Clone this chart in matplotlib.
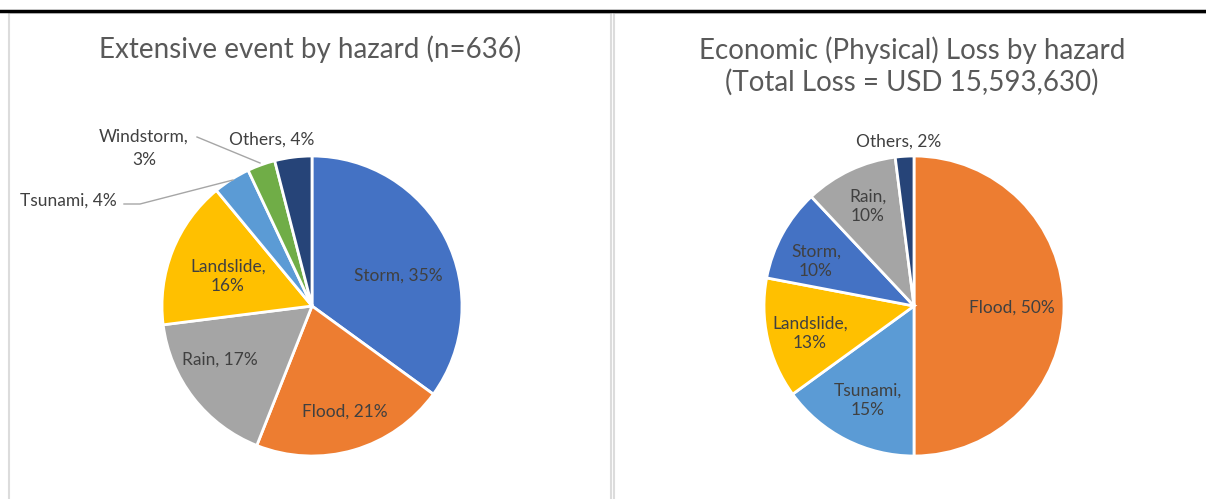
import matplotlib
matplotlib.use('Agg')
import matplotlib.pyplot as plt
from matplotlib.lines import Line2D
from matplotlib.patches import Rectangle

plt.rcParams['font.family'] = ['Lato', 'DejaVu Sans']

# data
event_hazards = ['Storm', 'Flood', 'Rain', 'Landslide', 'Tsunami', 'Windstorm', 'Others']
event_share = [35, 21, 17, 16, 4, 3, 4]
event_title = 'Extensive event by hazard (n=636)'

loss_hazards = ['Flood', 'Tsunami', 'Landslide', 'Storm', 'Rain', 'Others']
loss_share = [50, 15, 13, 10, 10, 2]
loss_title = 'Economic (Physical) Loss by hazard\n(Total Loss = USD 15,593,630)'

hazard_colors = {'Storm': '#4472C4', 'Flood': '#ED7D31', 'Rain': '#A5A5A5',
                 'Landslide': '#FFC000', 'Tsunami': '#5B9BD5',
                 'Windstorm': '#70AD47', 'Others': '#264478'}

W, H = 1206, 499
R = 150.0
txt = '#404040'

fig = plt.figure(figsize=(W / 100, H / 100), dpi=100)

# top rule and chart frames
fig.add_artist(Line2D([0, 1], [1 - 10.5 / H, 1 - 10.5 / H], color='black', lw=2.5))
for x0, x1 in [(9, 611), (614, 1215)]:
    fig.add_artist(Rectangle((x0 / W, -0.05), (x1 - x0) / W, 1.05 - 13 / H,
                             fill=False, ec='#dcdcdc', lw=1.5))


def make_pie(x0, x1, cx, cy, names, vals, labels, title, title_y):
    y0, y1 = 13, H
    ax = fig.add_axes([x0 / W, 1 - y1 / H, (x1 - x0) / W, (y1 - y0) / H])
    ax.pie(vals, colors=[hazard_colors[n] for n in names], startangle=90,
           counterclock=False, radius=1,
           wedgeprops=dict(edgecolor='white', linewidth=2))
    ax.set_xlim((x0 - cx) / R, (x1 - cx) / R)
    ax.set_ylim((cy - y1) / R, (cy - y0) / R)
    ax.set_aspect('auto')
    ax.axis('off')

    def p(x, y):
        return (x - cx) / R, (cy - y) / R

    ax.text(*p(cx - 2, title_y), title, ha='center', va='center', fontsize=20,
            color='#595959', linespacing=1.2)
    for n, v in zip(names, vals):
        if n not in labels:
            continue
        x, y, brk, ls = labels[n]
        s = f'{n},\n{v}%' if brk else f'{n}, {v}%'
        ax.text(*p(x, y), s, ha='center', va='center', fontsize=12.5,
                color=txt, linespacing=ls)
    return ax, p


# label positions (pixels): x, y, line break, line spacing
ev_lab = {'Storm': (398, 276, False, 1.25), 'Flood': (345, 412, False, 1.25),
          'Rain': (220, 360, False, 1.25), 'Landslide': (228, 276, True, 1.25),
          'Tsunami': (68, 201, False, 1.25), 'Windstorm': (144, 148, True, 1.55),
          'Others': (272, 140, False, 1.25)}
ax1, p1 = make_pie(9, 611, 312, 306, event_hazards, event_share, ev_lab,
                   event_title, 49)
# leader lines
ax1.plot(*zip(p1(197, 137), p1(260, 163)), color='#a6a6a6', lw=1)
ax1.plot(*zip(p1(124, 204), p1(140, 204), p1(233, 180)), color='#a6a6a6', lw=1)

lo_lab = {'Flood': (1012, 308, False, 1.25), 'Tsunami': (868, 400, True, 1.25),
          'Landslide': (810, 333, True, 1.25), 'Storm': (816, 261, True, 1.25),
          'Rain': (868, 206, True, 1.25), 'Others': (899, 142, False, 1.25)}
make_pie(614, 1215, 914, 306, loss_hazards, loss_share, lo_lab, loss_title, 66)

fig.savefig('out.png', dpi=100, facecolor='white')
